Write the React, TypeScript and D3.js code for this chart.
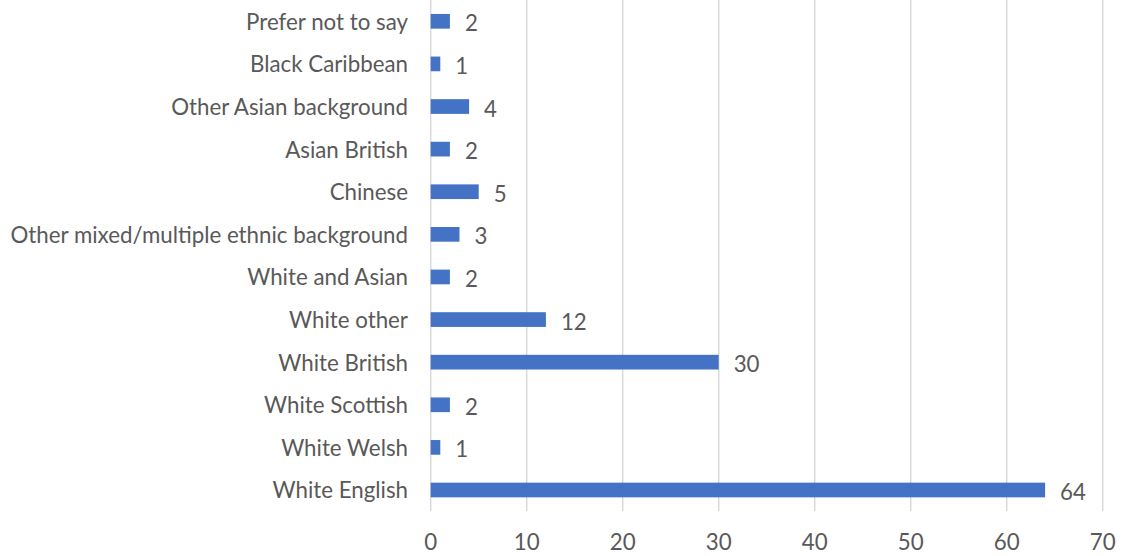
import React from "react";
import * as d3 from "d3";

const categories = [
  "Prefer not to say",
  "Black Caribbean",
  "Other Asian background",
  "Asian British",
  "Chinese",
  "Other mixed/multiple ethnic background",
  "White and Asian",
  "White other",
  "White British",
  "White Scottish",
  "White Welsh",
  "White English",
];
const values = [2, 1, 4, 2, 5, 3, 2, 12, 30, 2, 1, 64];
const xTicks = [0, 10, 20, 30, 40, 50, 60, 70];

const W = 1123;
const H = 556;
const FONT = "Lato, sans-serif";
const FS = 22.3;
const TEXT = "#595959";

export default function App() {
  const x = d3.scaleLinear().domain([0, 70]).range([430.7, 1102.7]);
  const y = d3.scaleBand().domain(categories).range([0, 511.3]).paddingInner(0.655).paddingOuter(0.655 / 2);
  return (
    <svg width={W} height={H} style={{ position: "absolute", left: 0, top: 0 }}>
      <rect width={W} height={H} fill="#fff" />
      {xTicks.map((t) => (
        <line key={t} x1={x(t)} x2={x(t)} y1={0} y2={511} stroke="#d9d9d9" strokeWidth={1.5} />
      ))}
      {categories.map((c, i) => (
        <g key={c}>
          <rect x={x(0)} y={y(c)} width={x(values[i]) - x(0)} height={y.bandwidth()} fill="#4472c4" />
          <text x={408} y={(y(c) as number) + y.bandwidth() / 2} textAnchor="end" dominantBaseline="central" fontFamily={FONT} fontSize={FS} fill={TEXT}>{c}</text>
          <text x={x(values[i]) + 15} y={(y(c) as number) + y.bandwidth() / 2 + 1.5} textAnchor="start" dominantBaseline="central" fontFamily={FONT} fontSize={FS} fill={TEXT}>{values[i]}</text>
        </g>
      ))}
      {xTicks.map((t) => (
        <text key={t} x={x(t)} y={541} textAnchor="middle" dominantBaseline="central" fontFamily={FONT} fontSize={FS} fill={TEXT}>{t}</text>
      ))}
    </svg>
  );
}
